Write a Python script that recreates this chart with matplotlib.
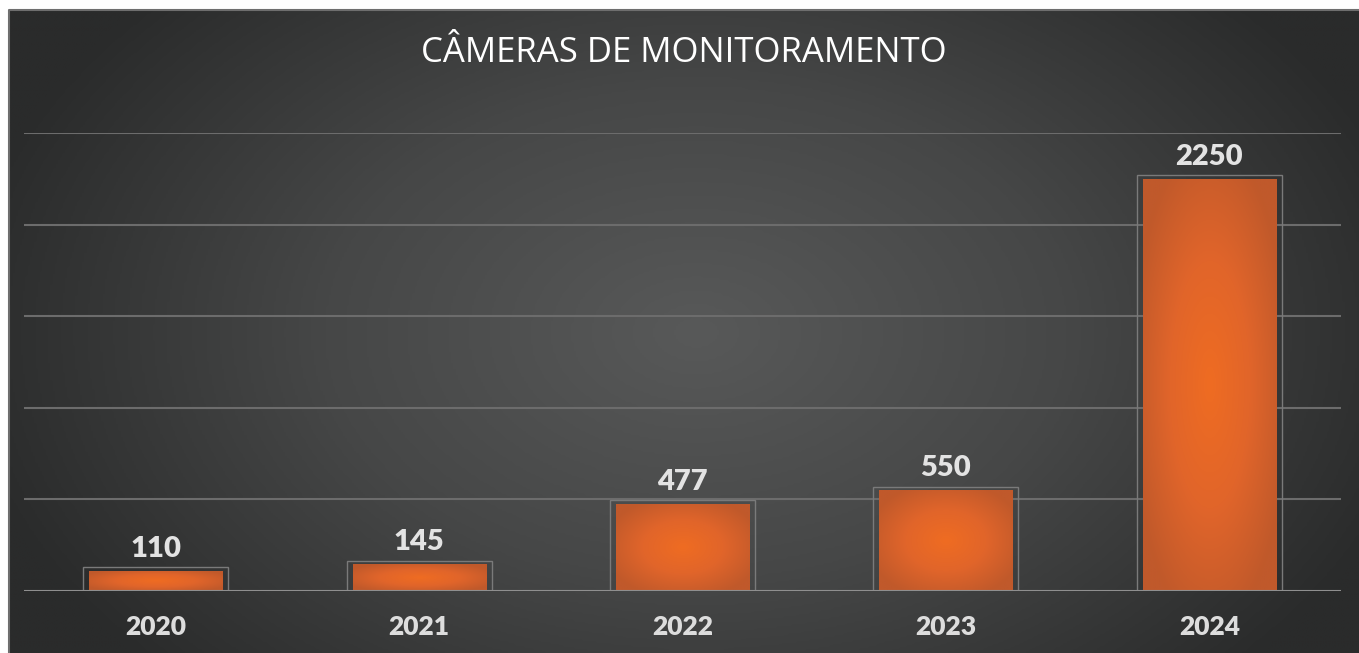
import numpy as np
import matplotlib.pyplot as plt
from matplotlib.colors import LinearSegmentedColormap

# chart data
years = ['2020', '2021', '2022', '2023', '2024']
cameras = [110, 145, 477, 550, 2250]
title = 'CÂMERAS DE MONITORAMENTO'

plt.rcParams['font.family'] = ['Lato', 'DejaVu Sans']

W, H = 1359, 653
fig = plt.figure(figsize=(W / 100, H / 100), dpi=100)
fig.patch.set_facecolor('white')

# dark panel with a soft radial light in the middle
bg = fig.add_axes([9 / W, 0, (W - 9) / W, (H - 10) / H])
yy, xx = np.mgrid[0:300, 0:600]
d = np.sqrt(((xx - 305) / 330) ** 2 + ((yy - 150) / 230) ** 2)
d = np.clip(d, 0, 1)
bg_cmap = LinearSegmentedColormap.from_list('bg', ['#585959', '#464747', '#2a2b2b'])
bg.imshow(d, cmap=bg_cmap, aspect='auto', extent=(0, 1, 0, 1), interpolation='bilinear')
bg.set_xlim(0, 1)
bg.set_ylim(0, 1)
bg.axis('off')
bg.plot([0, 0, 1], [0, 1, 1], color='#6e6e6e', lw=1.5, transform=bg.transAxes, clip_on=False)

bg.text(0.5, 1 - (53 - 10) / (H - 10), title, ha='center', va='center',
        color='white', fontsize=25, family=['Open Sans', 'DejaVu Sans'],
        transform=bg.transAxes)

# plotting area
ax = fig.add_axes([24 / W, (H - 591) / H, 1317 / W, 458 / H])
ax.set_facecolor('none')
x = np.arange(len(years))
ax.set_xlim(-0.5, len(years) - 0.5)
ax.set_ylim(0, 2500)

for g in range(500, 2501, 500):
    ax.axhline(g, color='#6c6c6c', lw=1.5, zorder=1)

bar_cmap = LinearSegmentedColormap.from_list('bar', ['#ef6c22', '#e1652a', '#c0592b'])
bars = ax.bar(x, cameras, width=0.505, color='#d5612a', zorder=2)
for b in bars:
    x0, w, h = b.get_x(), b.get_width(), b.get_height()
    gy, gx = np.mgrid[-1:1:200j, -1:1:200j]
    r = np.clip(np.sqrt(gx ** 2 + gy ** 2) / 1.2, 0, 1)
    im = ax.imshow(r, cmap=bar_cmap, vmin=0, vmax=1, aspect='auto',
                   extent=(x0, x0 + w, 0, h), zorder=3, interpolation='bilinear')
    im.set_clip_path(b)

# thin frame around each bar
ax.bar(x, np.array(cameras) + 25, width=0.55, bottom=-6, fill=False,
       edgecolor='#7a7a7a', lw=1, zorder=4)
ax.axhline(0, color='#8f8f8f', lw=1.5, zorder=5)

for xi, v in zip(x, cameras):
    ax.annotate(str(v), (xi, v), xytext=(0, 14), textcoords='offset pixels',
                ha='center', va='baseline', color='#e3e3e3', fontsize=21,
                fontweight='heavy')

ax.set_xticks(x)
ax.set_xticklabels(years, color='#dddddd', fontsize=19, fontweight='heavy')
ax.tick_params(axis='x', length=0, pad=17)
ax.set_yticks([])
for s in ax.spines.values():
    s.set_visible(False)

fig.savefig('out.png', dpi=100, facecolor='white')
